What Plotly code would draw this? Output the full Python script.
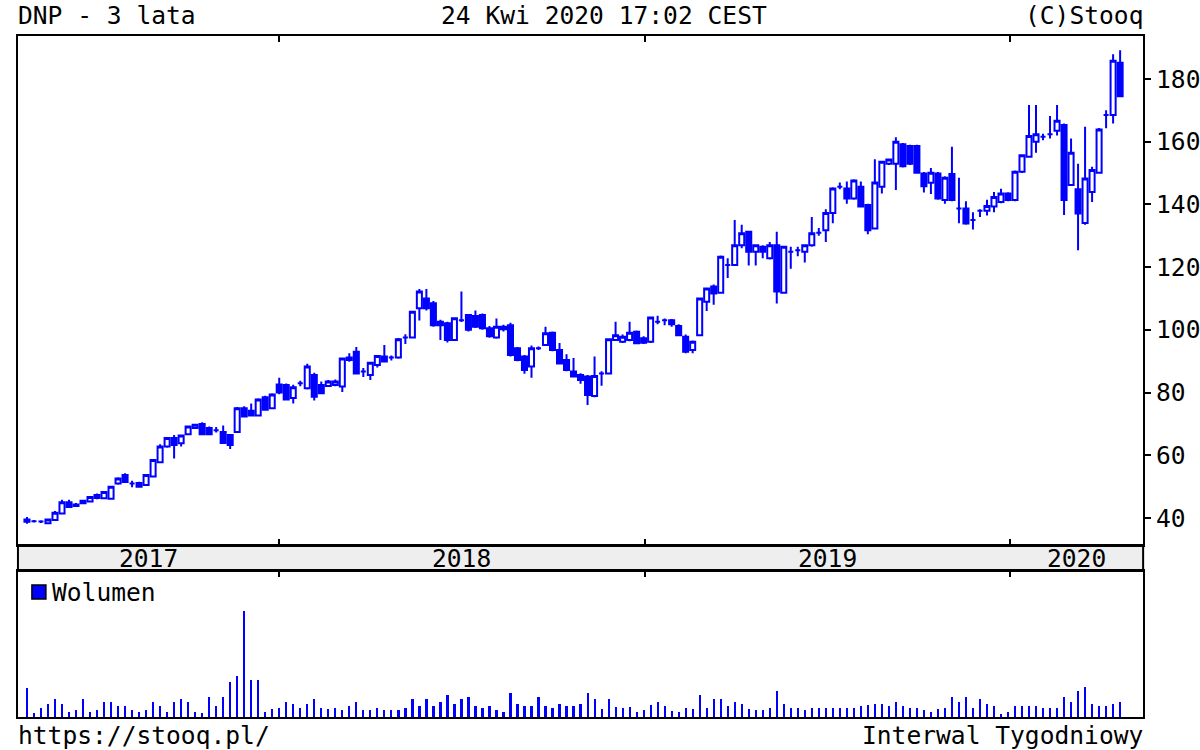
import plotly.graph_objects as go
import pandas as pd

W, H = 1200, 750


def px(p):
    return p / W


def py(p):
    return 1 - p / H


# ---------------- data (weekly candles, DNP, 3 years) ----------------
weeks = pd.date_range('2017-04-24', periods=157, freq='7D')

open_ = [39.5, 39.0, 38.9, 38.3, 39.4, 41.4, 45.0, 44.3, 45.5, 45.3,
         46.4, 46.3, 46.1, 51.0, 53.7, 51.0, 51.2, 50.5, 53.2, 57.8,
         62.8, 65.5, 63.8, 66.7, 68.7, 70.0, 68.7, 68.0, 67.4, 66.5,
         67.4, 75.0, 74.2, 72.7, 78.5, 75.0, 82.6, 82.4, 78.3, 83.0,
         81.4, 85.6, 82.4, 82.1, 82.4, 81.9, 91.2, 93.0, 86.7, 85.6,
         88.8, 91.5, 91.2, 91.2, 97.6, 97.6, 106.9, 110.0, 108.5, 102.6,
         102.1, 96.8, 103.1, 104.7, 104.4, 104.7, 100.5, 97.6, 101.0, 101.5,
         94.1, 91.5, 88.3, 94.1, 95.2, 99.1, 93.6, 90.4, 86.7, 85.6,
         85.1, 78.9, 86.1, 86.1, 96.8, 96.2, 96.8, 99.4, 97.3, 96.2,
         102.6, 103.1, 103.1, 101.2, 97.8, 93.6, 98.3, 109.0, 113.8, 111.8,
         120.7, 120.7, 127.0, 131.3, 124.9, 126.5, 122.8, 127.0, 111.8, 124.9,
         125.4, 124.9, 127.0, 131.0, 131.8, 137.3, 145.6, 145.1, 141.9, 145.6,
         139.8, 132.3, 145.6, 153.0, 153.0, 159.2, 158.6, 158.6, 149.9, 146.9,
         149.9, 141.4, 149.7, 138.7, 138.7, 135.0, 138.0, 138.0, 139.3, 140.8,
         143.5, 141.4, 150.4, 155.2, 160.0, 161.6, 162.4, 163.5, 165.3, 146.2,
         144.8, 134.1, 144.0, 150.1, 168.5, 168.5, 185.2]

high = [40.3, 39.4, 39.3, 39.8, 42.2, 45.8, 45.8, 44.8, 45.8, 47.0,
        47.8, 48.5, 50.3, 53.0, 54.3, 51.9, 51.6, 53.9, 58.8, 63.5,
        65.8, 66.5, 66.6, 69.5, 70.0, 70.5, 69.2, 69.0, 69.5, 66.8,
        75.4, 75.6, 76.5, 78.2, 79.0, 79.8, 84.7, 82.9, 82.5, 83.8,
        89.2, 86.3, 83.5, 84.0, 84.2, 91.2, 92.5, 94.5, 87.8, 89.8,
        92.0, 95.2, 91.8, 97.4, 98.6, 106.0, 113.0, 113.0, 109.2, 103.2,
        102.6, 104.0, 112.2, 105.0, 106.2, 105.2, 101.2, 103.6, 101.6, 102.3,
        94.5, 92.0, 95.0, 94.7, 101.0, 99.5, 95.8, 92.2, 91.0, 86.2,
        85.6, 91.5, 86.8, 97.3, 102.6, 98.5, 102.6, 99.8, 98.0, 104.2,
        104.5, 103.6, 103.5, 101.8, 98.5, 96.6, 110.3, 113.5, 114.5, 123.7,
        122.8, 135.0, 133.5, 131.6, 127.3, 127.0, 128.0, 131.3, 126.8, 126.5,
        126.5, 127.3, 136.0, 132.5, 138.5, 145.5, 147.0, 147.3, 148.0, 147.3,
        140.2, 154.4, 153.9, 154.6, 161.4, 159.6, 159.0, 159.0, 150.3, 151.6,
        150.3, 149.0, 158.4, 148.5, 141.0, 137.5, 138.5, 141.5, 144.0, 145.0,
        143.9, 150.8, 156.0, 171.7, 171.7, 162.5, 168.2, 171.7, 165.8, 161.0,
        153.0, 164.8, 152.0, 164.4, 170.0, 187.9, 189.2]

low = [38.2, 38.6, 38.4, 38.0, 39.2, 41.2, 43.2, 43.5, 44.6, 45.1,
       46.0, 46.1, 45.9, 50.6, 51.2, 49.8, 49.7, 50.2, 53.0, 57.5,
       62.4, 59.0, 62.8, 66.4, 68.4, 66.4, 66.5, 67.3, 63.6, 62.0,
       67.2, 72.1, 72.4, 72.5, 74.3, 74.7, 79.5, 77.6, 76.5, 82.0,
       81.0, 77.5, 79.5, 81.8, 82.0, 80.2, 89.8, 85.8, 85.0, 84.0,
       88.0, 89.6, 90.2, 90.8, 95.5, 97.3, 103.0, 106.2, 101.0, 96.8,
       96.0, 96.5, 102.5, 99.5, 100.6, 100.0, 97.5, 97.2, 99.5, 91.5,
       90.0, 86.0, 84.7, 93.6, 95.0, 93.2, 89.0, 86.8, 85.0, 82.8,
       76.0, 78.5, 82.2, 85.8, 96.5, 95.8, 96.4, 95.4, 95.5, 95.8,
       101.8, 101.5, 101.0, 98.0, 92.5, 92.5, 98.0, 106.0, 108.0, 111.5,
       116.5, 120.4, 126.0, 120.5, 120.5, 122.8, 122.4, 108.4, 111.5, 119.5,
       123.5, 121.5, 126.5, 130.0, 128.0, 134.0, 144.8, 140.2, 141.5, 139.0,
       130.5, 132.0, 143.5, 152.6, 144.6, 151.8, 152.6, 149.8, 143.8, 143.3,
       141.5, 140.2, 141.0, 134.0, 133.5, 132.0, 136.0, 136.5, 137.5, 140.4,
       141.0, 141.0, 150.0, 155.0, 156.5, 160.5, 161.0, 162.0, 136.6, 146.0,
       125.4, 133.5, 140.8, 149.8, 164.3, 165.8, 174.5]

close = [38.8, 39.0, 38.9, 39.5, 41.7, 45.0, 43.5, 43.8, 44.7, 46.7,
         47.3, 48.3, 50.0, 52.6, 51.5, 51.0, 50.0, 53.7, 58.5, 62.8,
         65.5, 63.3, 66.3, 69.2, 69.7, 66.7, 66.7, 68.0, 63.9, 63.3,
         75.0, 72.4, 72.7, 77.8, 74.5, 79.4, 80.0, 77.8, 81.7, 83.0,
         88.3, 78.7, 79.8, 83.5, 83.5, 90.9, 90.4, 86.1, 86.7, 89.5,
         91.7, 89.9, 91.2, 97.0, 97.6, 105.8, 112.2, 106.9, 101.5, 101.5,
         96.8, 103.7, 103.1, 100.0, 101.0, 100.5, 98.0, 101.0, 100.2, 92.0,
         90.4, 87.2, 94.1, 94.1, 98.9, 93.6, 89.3, 87.2, 85.1, 84.0,
         79.2, 85.3, 86.1, 97.0, 98.3, 97.8, 99.1, 95.7, 95.9, 103.9,
         102.6, 103.1, 101.8, 98.3, 93.0, 96.2, 110.0, 113.2, 111.6, 123.3,
         120.7, 127.0, 130.8, 124.9, 127.0, 124.9, 127.0, 112.2, 126.5, 124.9,
         125.4, 127.0, 130.8, 131.0, 137.3, 145.1, 145.6, 141.9, 147.6, 139.3,
         131.8, 147.0, 153.6, 154.3, 160.0, 152.2, 153.0, 150.1, 145.8, 150.1,
         141.9, 148.5, 141.4, 138.7, 133.9, 135.0, 138.0, 139.5, 142.4, 143.5,
         141.4, 150.4, 155.7, 161.8, 162.4, 161.6, 162.4, 166.7, 141.4, 156.5,
         137.1, 148.3, 151.0, 163.9, 168.5, 185.8, 174.5]

volume = [85, 13, 28, 38, 53, 38, 15, 21, 53, 15,
          21, 46, 46, 33, 33, 21, 15, 21, 46, 33,
          15, 46, 53, 46, 15, 13, 60, 33, 60, 105,
          123, 316, 111, 111, 15, 25, 28, 46, 40, 28,
          40, 53, 28, 25, 28, 21, 33, 46, 21, 21,
          28, 21, 21, 21, 28, 53, 33, 53, 33, 46,
          66, 40, 53, 60, 33, 28, 33, 21, 15, 72,
          40, 33, 33, 60, 33, 28, 40, 33, 33, 40,
          72, 53,
          23, 53, 31, 26, 31, 15, 21, 36, 46, 33,
          18, 15, 26, 23, 65, 28, 53, 53, 33, 46,
          40, 25, 21, 21, 28, 78, 40, 28, 28, 21,
          28, 26, 28, 28, 28, 28, 28, 33, 36, 40,
          40, 33, 46, 33, 28, 28, 21, 15, 25, 28,
          60, 46, 60, 28, 53, 38, 33, 8, 15, 33,
          33, 33, 33, 28, 28, 28, 60, 46, 78, 90,
          40, 33, 33, 40, 46]

y_ticks = [40, 60, 80, 100, 120, 140, 160, 180]
year_labels = ['2017', '2018', '2019', '2020']

title_left = 'DNP - 3 lata'
title_mid = '24 Kwi 2020 17:02 CEST'
title_right = '(C)Stooq'
foot_left = 'https://stooq.pl/'
foot_right = 'Interwal Tygodniowy'
legend_text = 'Wolumen'

# ---------------- styling ----------------
BLUE = '#0000ff'
FONT = 'DejaVu Sans Mono'
FS = 24.6
x_range = [pd.Timestamp('2017-04-15'), pd.Timestamp('2020-05-13')]
year_starts = [pd.Timestamp(f'{y}-01-01') for y in (2018, 2019, 2020)]

fig = go.Figure()

fig.add_trace(go.Candlestick(
    x=weeks, open=open_, high=high, low=low, close=close,
    increasing=dict(line=dict(color=BLUE, width=2), fillcolor='#ffffff'),
    decreasing=dict(line=dict(color=BLUE, width=2), fillcolor=BLUE),
    whiskerwidth=0, name='DNP', showlegend=False,
    xaxis='x', yaxis='y', hoverinfo='x+text'
))

fig.add_trace(go.Bar(
    x=weeks, y=volume, width=2.2 * 86400000,
    marker=dict(color=BLUE, line=dict(width=0)),
    name=legend_text, showlegend=False, xaxis='x2', yaxis='y2'
))

axis_common = dict(showgrid=False, zeroline=False, linecolor='black',
                   linewidth=2, showline=True)

# year label positions: middle of each year's visible segment
bounds = [x_range[0]] + year_starts + [x_range[1]]
annotations = []
for i, lab in enumerate(year_labels):
    a, b = bounds[i], bounds[i + 1]
    mid = a + (b - a) / 2
    annotations.append(dict(x=mid, y=py(558), xref='x', yref='paper',
                            text=lab, showarrow=False, xanchor='center',
                            yanchor='middle', font=dict(size=FS)))

annotations += [
    dict(x=px(16), y=py(15), xref='paper', yref='paper', text=title_left,
         showarrow=False, xanchor='left', yanchor='middle'),
    dict(x=px(606), y=py(15), xref='paper', yref='paper', text=title_mid,
         showarrow=False, xanchor='center', yanchor='middle'),
    dict(x=px(1148), y=py(15), xref='paper', yref='paper', text=title_right,
         showarrow=False, xanchor='right', yanchor='middle'),
    dict(x=px(16), y=py(735), xref='paper', yref='paper', text=foot_left,
         showarrow=False, xanchor='left', yanchor='middle'),
    dict(x=px(1148), y=py(735), xref='paper', yref='paper', text=foot_right,
         showarrow=False, xanchor='right', yanchor='middle'),
    dict(x=px(50), y=py(592), xref='paper', yref='paper', text=legend_text,
         showarrow=False, xanchor='left', yanchor='middle'),
]

shapes = [
    dict(type='rect', xref='paper', yref='paper', x0=px(18), x1=px(1146),
         y0=py(571), y1=py(545), fillcolor='#eeeeee',
         line=dict(color='black', width=2), layer='below'),
    dict(type='rect', xref='paper', yref='paper', x0=px(32), x1=px(46),
         y0=py(599), y1=py(585), fillcolor=BLUE,
         line=dict(color='black', width=1.5)),
]

fig.update_layout(
    width=W, height=H, autosize=False,
    margin=dict(l=0, r=0, t=0, b=0),
    paper_bgcolor='white', plot_bgcolor='white',
    font=dict(family=FONT, size=FS, color='black'),
    showlegend=False,
    boxgap=0.15, boxgroupgap=0.15,
    bargap=0,
    xaxis=dict(domain=[px(18), px(1146)], range=x_range, type='date',
               anchor='y', tickvals=year_starts, ticks='inside', ticklen=6,
               tickwidth=2, tickcolor='black', showticklabels=False,
               mirror='ticks', rangeslider=dict(visible=False), **axis_common),
    yaxis=dict(domain=[py(545), py(36)], range=[31.39, 193.71], anchor='x',
               side='right', tickvals=y_ticks, ticks='outside', ticklen=6,
               tickwidth=2, tickcolor='black', mirror=True, **axis_common),
    xaxis2=dict(domain=[px(18), px(1146)], range=x_range, type='date',
                anchor='y2', side='top', tickvals=year_starts, ticks='inside',
                ticklen=6, tickwidth=2, tickcolor='black',
                showticklabels=False, mirror=True, **axis_common),
    yaxis2=dict(domain=[py(717), py(571)], range=[0, max(volume) * 146 / 106],
                anchor='x2', showticklabels=False, ticks='', mirror=True,
                **axis_common),
    annotations=annotations,
    shapes=shapes,
)

fig.write_html(
    "out.html",
    config={'displayModeBar': False},
    post_script="document.body.style.margin='0';document.body.style.overflow='hidden';",
)
